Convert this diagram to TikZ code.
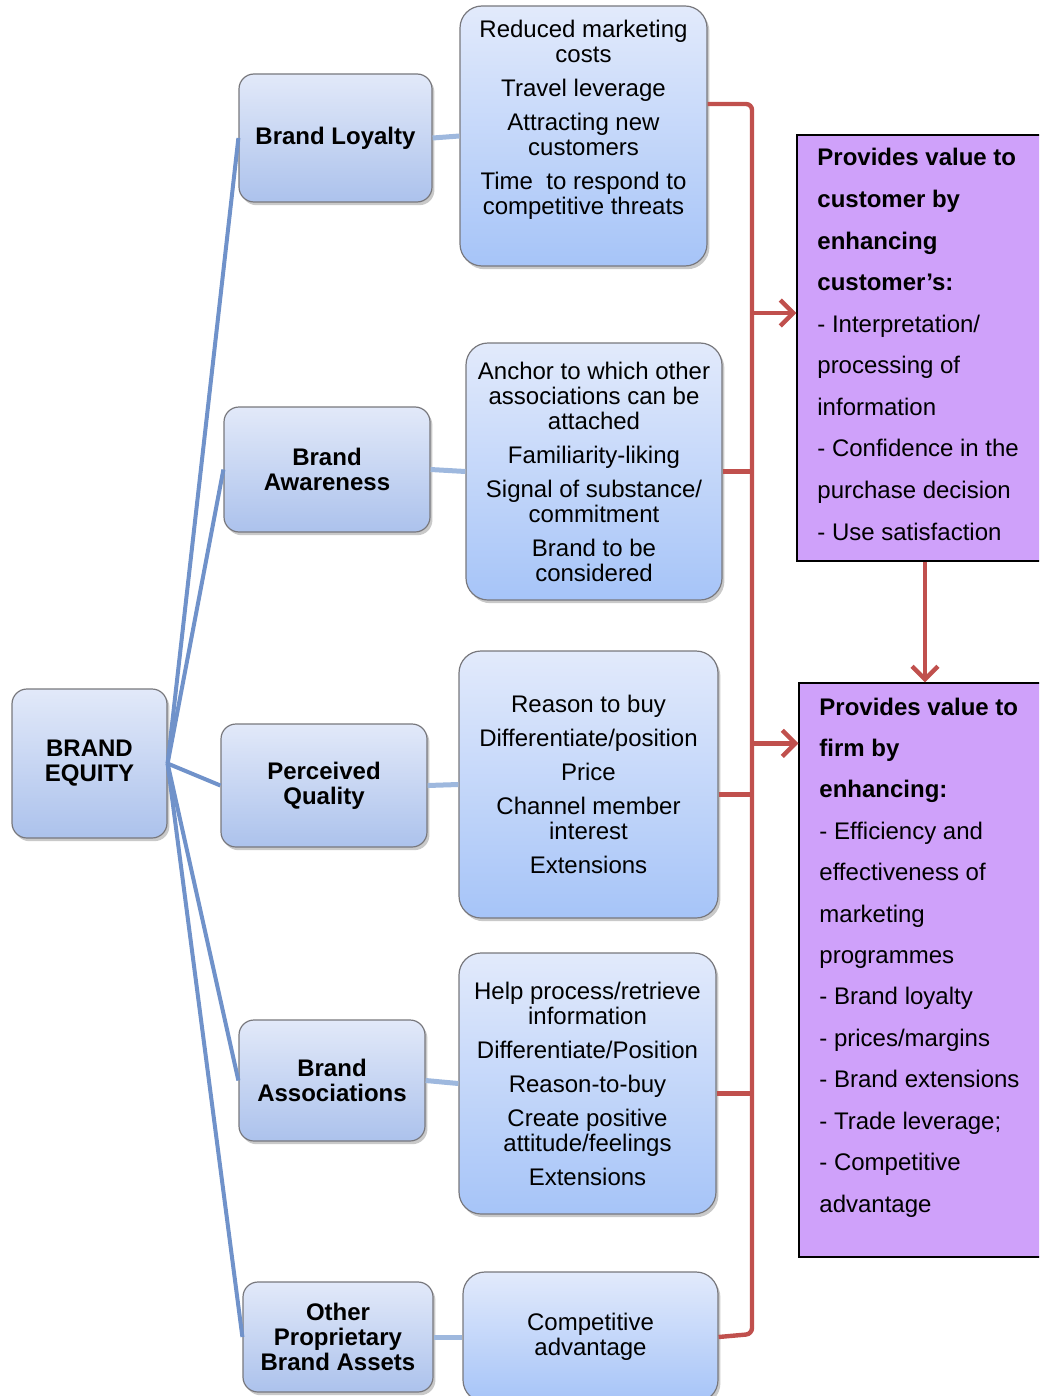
\documentclass[tikz,border=0pt]{standalone}
\usepackage{fontspec}
\setmainfont{Liberation Sans}
\usetikzlibrary{shadows,arrows.meta}

\definecolor{boxedge}{RGB}{120,120,125}
\definecolor{cattop}{RGB}{226,233,249}
\definecolor{catbot}{RGB}{172,194,236}
\definecolor{dettop}{RGB}{226,234,251}
\definecolor{detbot}{RGB}{166,196,248}
\definecolor{spoke}{RGB}{112,146,202}
\definecolor{link}{RGB}{158,184,222}
\definecolor{bracket}{RGB}{192,80,77}
\definecolor{valuefill}{RGB}{207,161,250}

\tikzset{
  x=0.5pt, y=-0.5pt,
  shade/.style={draw=boxedge, line width=0.6pt,
    drop shadow={shadow xshift=1.2pt, shadow yshift=-1.6pt, opacity=0.3, fill=black!70},
    align=center, inner sep=0pt},
  catbox/.style={shade, rounded corners=7.5pt, top color=cattop, bottom color=catbot,
    font=\fontsize{12}{12.5}\selectfont\bfseries},
  detbox/.style={shade, rounded corners=11pt, top color=dettop, bottom color=detbot,
    font=\fontsize{12}{12.5}\selectfont},
  dettext/.style={align=center, inner sep=0pt, font=\fontsize{12}{12.5}\selectfont},
  valuebox/.style={draw=black, line width=0.6pt, fill=valuefill, inner sep=0pt},
  valueline/.style={anchor=base west, inner sep=0pt, font=\fontsize{12}{14}\selectfont},
  spokeline/.style={draw=spoke, line width=2pt},
  linkline/.style={draw=link, line width=2.5pt},
  bracketline/.style={draw=bracket, line width=2.2pt},
  tip/.style={-{Straight Barb[length=6.5pt,width=13pt,line width=2.2pt]}}
}

\begin{document}
\begin{tikzpicture}
\clip (0,0) rectangle (1039,1396);

% value boxes on the right
\node[valuebox, minimum width=125pt, minimum height=213pt] (c1) at (922,348) {};
\node[valuebox, minimum width=124pt, minimum height=287pt] (c2) at (923,970) {};

\foreach \t [count=\i] in {\textbf{Provides value to}, \textbf{customer by},
    \textbf{enhancing}, \textbf{customer’s:}, - Interpretation/, processing of,
    information, - Confidence in the, purchase decision, - Use satisfaction}
  \node[valueline] (cl\i) at (817,{166+41.56*(\i-1)}) {\t};

\foreach \t [count=\i] in {\textbf{Provides value to}, \textbf{firm by},
    \textbf{enhancing:}, - Efficiency and, effectiveness of, marketing,
    programmes, - Brand loyalty, - prices/margins, - Brand extensions,
    - Trade leverage;, - Competitive, advantage}
  \node[valueline] (fl\i) at (819,{715+41.42*(\i-1)}) {\t};

% root
\node[catbox, minimum width=77.5pt, minimum height=74.5pt] (eq) at (89.5,763.5)
  {BRAND\\EQUITY};

% dimensions
\node[catbox, minimum width=96.5pt, minimum height=64pt] (loy) at (335.5,138) {Brand Loyalty};
\node[catbox, minimum width=103pt, minimum height=62.5pt] (awa) at (327,469.5) {Brand\\Awareness};
\node[catbox, minimum width=103pt, minimum height=61.5pt] (qual) at (324,785.5) {Perceived\\Quality};
\node[catbox, minimum width=93pt, minimum height=60.5pt] (asc) at (332,1080.5) {Brand\\Associations};
\node[catbox, minimum width=95pt, minimum height=55pt] (oth) at (338,1337) {Other\\Proprietary\\Brand Assets};

% benefits of each dimension
\node[detbox, minimum width=123.5pt, minimum height=130pt] (d1) at (583.5,136) {};
\node[dettext] (d1t) at (583.5,120) {Reduced marketing\\costs\\[4.5pt]Travel leverage\\[4.5pt]Attracting new\\customers\\[4.5pt]Time\ \ to respond to\\competitive threats};
\node[detbox, minimum width=128pt, minimum height=128.5pt] (d2) at (594,471.5)
  {Anchor to which other\\associations can be\\attached\\[4.5pt]Familiarity-liking\\[4.5pt]Signal of substance/\\commitment\\[4.5pt]Brand to be\\considered};
\node[detbox, minimum width=129.5pt, minimum height=133.5pt] (d3) at (588.5,784.5)
  {Reason to buy\\[4.5pt]Differentiate/position\\[4.5pt]Price\\[4.5pt]Channel member\\interest\\[4.5pt]Extensions};
\node[detbox, minimum width=128.5pt, minimum height=130.5pt] (d4) at (587.5,1083.5)
  {Help process/retrieve\\information\\[4.5pt]Differentiate/Position\\[4.5pt]Reason-to-buy\\[4.5pt]Create positive\\attitude/feelings\\[4.5pt]Extensions};
\node[detbox, minimum width=127.5pt, minimum height=65pt] (d5) at (590.5,1337)
  {Competitive\\advantage};

% spokes from the root
\foreach \n in {loy,awa,qual,asc,oth}
  \draw[spokeline] (eq.east) -- (\n.west);

% dimension to benefit links
\draw[linkline] (loy.east) -- (d1.west);
\draw[linkline] (awa.east) -- (d2.west);
\draw[linkline] (qual.east) -- (d3.west);
\draw[linkline] (asc.east) -- (d4.west);
\draw[linkline] (oth.east) -- (d5.west);

% collecting bracket
\coordinate (bt) at (752,104);
\coordinate (bb) at (752,1334);
\draw[bracketline, rounded corners=3pt] ([yshift=16pt]d1.east) -- (bt) -- (bb) -- (d5.east);
\draw[bracketline] (d2.east) -- (d2.east -| bt);
\draw[bracketline] ([yshift=-5pt]d3.east) -- ([yshift=-5pt]d3.east -| bt);
\draw[bracketline] ([yshift=-5pt]d4.east) -- ([yshift=-5pt]d4.east -| bt);

% arrows into the value boxes
\draw[bracketline, tip] ([yshift=17.5pt]c1.west -| bt) -- ([yshift=17.5pt]c1.west);
\draw[bracketline, tip] ([yshift=-30.5pt]c2.north west -| bt) -- ([yshift=-30.5pt]c2.north west);
\draw[bracketline, tip] ([xshift=1.5pt]c1.south) -- ([xshift=1.5pt]c1.south |- c2.north);
\end{tikzpicture}
\end{document}
